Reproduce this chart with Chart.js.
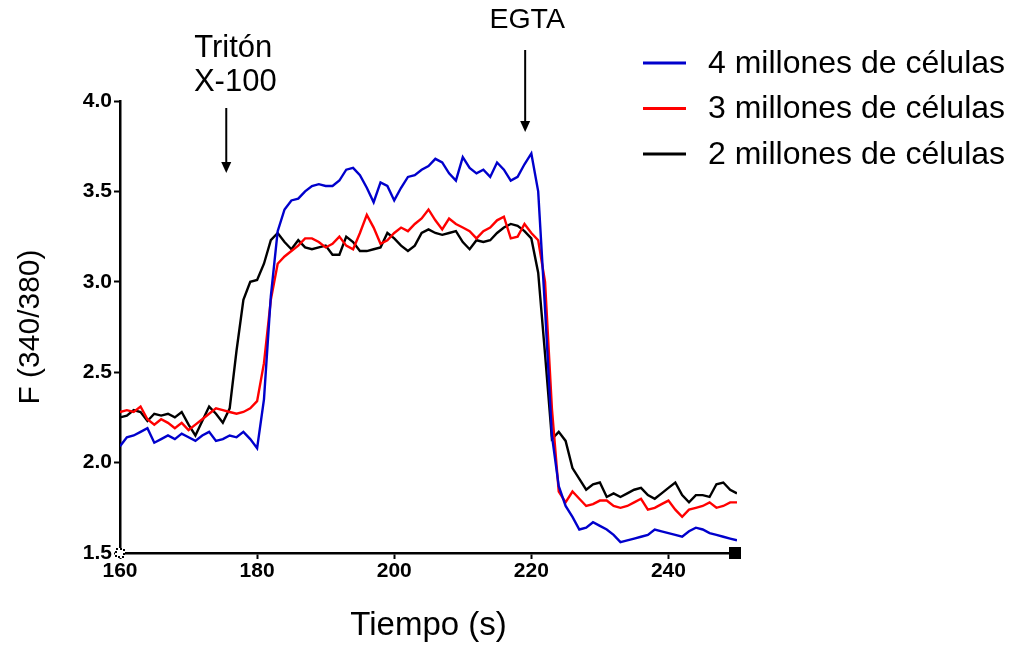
<!DOCTYPE html>
<html>
<head>
<meta charset="utf-8">
<script src="https://cdn.jsdelivr.net/npm/chart.js@4.4.1/dist/chart.umd.min.js"></script>
<style>
  html, body { margin: 0; padding: 0; background: #fff; }
</style>
</head>
<body>
<canvas id="chart" width="1022" height="646"></canvas>
<script>
// Tiempo (s)
const tiempo = [
  160, 161, 162, 163, 164, 165, 166, 167, 168, 169,
  170, 171, 172, 173, 174, 175, 176, 177, 178, 179,
  180, 181, 182, 183, 184, 185, 186, 187, 188, 189,
  190, 191, 192, 193, 194, 195, 196, 197, 198, 199,
  200, 201, 202, 203, 204, 205, 206, 207, 208, 209,
  210, 211, 212, 213, 214, 215, 216, 217, 218, 219,
  220, 221, 222, 223, 224, 225, 226, 227, 228, 229,
  230, 231, 232, 233, 234, 235, 236, 237, 238, 239,
  240, 241, 242, 243, 244, 245, 246, 247, 248, 249,
  250
];

// F (340/380)
const cuatroMillones = [
  2.09, 2.14, 2.15, 2.17, 2.19, 2.11, 2.13, 2.15, 2.13, 2.16,
  2.14, 2.12, 2.15, 2.17, 2.12, 2.13, 2.15, 2.14, 2.17, 2.13,
  2.08, 2.35, 2.92, 3.28, 3.40, 3.45, 3.46, 3.50, 3.53, 3.54,
  3.53, 3.53, 3.56, 3.62, 3.63, 3.59, 3.52, 3.44, 3.55, 3.53,
  3.45, 3.52, 3.58, 3.59, 3.62, 3.64, 3.68, 3.66, 3.60, 3.56,
  3.69, 3.63, 3.60, 3.62, 3.58, 3.66, 3.62, 3.56, 3.58, 3.65,
  3.71, 3.50, 2.85, 2.15, 1.87, 1.76, 1.70, 1.63, 1.64, 1.67,
  1.65, 1.63, 1.60, 1.56, 1.57, 1.58, 1.59, 1.60, 1.63, 1.62,
  1.61, 1.60, 1.59, 1.62, 1.64, 1.63, 1.61, 1.60, 1.59, 1.58,
  1.57
];

const tresMillones = [
  2.28, 2.29, 2.28, 2.31, 2.24, 2.21, 2.24, 2.22, 2.19, 2.22,
  2.18, 2.21, 2.24, 2.27, 2.30, 2.29, 2.28, 2.27, 2.28, 2.30,
  2.34, 2.55, 2.90, 3.10, 3.14, 3.17, 3.20, 3.24, 3.24, 3.22,
  3.19, 3.21, 3.25, 3.20, 3.18, 3.27, 3.37, 3.30, 3.21, 3.23,
  3.27, 3.30, 3.28, 3.32, 3.35, 3.40, 3.34, 3.29, 3.35, 3.32,
  3.30, 3.28, 3.24, 3.28, 3.30, 3.34, 3.36, 3.24, 3.25, 3.32,
  3.27, 3.23, 3.00, 2.30, 1.84, 1.78, 1.84, 1.80, 1.76, 1.77,
  1.79, 1.79, 1.76, 1.75, 1.76, 1.78, 1.80, 1.74, 1.75, 1.77,
  1.79, 1.74, 1.70, 1.74, 1.75, 1.76, 1.78, 1.75, 1.76, 1.78,
  1.78
];

const dosMillones = [
  2.25, 2.26, 2.29, 2.28, 2.23, 2.27, 2.26, 2.27, 2.25, 2.28,
  2.21, 2.15, 2.23, 2.31, 2.27, 2.22, 2.30, 2.62, 2.90, 3.00,
  3.01, 3.10, 3.23, 3.27, 3.22, 3.18, 3.23, 3.19, 3.18, 3.19,
  3.20, 3.15, 3.15, 3.25, 3.22, 3.17, 3.17, 3.18, 3.19, 3.27,
  3.24, 3.20, 3.17, 3.20, 3.27, 3.29, 3.27, 3.26, 3.27, 3.28,
  3.22, 3.18, 3.23, 3.22, 3.23, 3.27, 3.30, 3.32, 3.31, 3.28,
  3.24, 3.05, 2.60, 2.13, 2.17, 2.12, 1.97, 1.91, 1.85, 1.88,
  1.89, 1.81, 1.83, 1.81, 1.83, 1.85, 1.86, 1.82, 1.80, 1.83,
  1.86, 1.89, 1.82, 1.78, 1.82, 1.82, 1.81, 1.88, 1.89, 1.85,
  1.83
];

const etiquetas = ['4 millones de células', '3 millones de células', '2 millones de células'];
const colores = ['#0000cc', '#ff0000', '#000000'];
const xTicks = [160, 180, 200, 220, 240];
const yTicks = [1.5, 2.0, 2.5, 3.0, 3.5, 4.0];
// momentos de adicion (s)
const adiciones = [
  { texto: ['Tritón', 'X-100'], t: 175.5 },
  { texto: ['EGTA'], t: 219.1 }
];

const FONT = '"Liberation Sans", Arial, sans-serif';

function serie(valores) {
  return valores.map((v, i) => ({ x: tiempo[i], y: v }));
}

function flecha(ctx, x, y0, y1) {
  ctx.beginPath();
  ctx.moveTo(x, y0);
  ctx.lineTo(x, y1 - 8);
  ctx.lineWidth = 2;
  ctx.strokeStyle = '#000';
  ctx.stroke();
  ctx.beginPath();
  ctx.moveTo(x - 5, y1 - 11);
  ctx.lineTo(x + 5, y1 - 11);
  ctx.lineTo(x, y1);
  ctx.closePath();
  ctx.fillStyle = '#000';
  ctx.fill();
}

// anotaciones, leyenda y marcas de los extremos del eje
const extras = {
  id: 'extras',
  afterDraw(chart) {
    const ctx = chart.ctx;
    const sx = chart.scales.x;
    const area = chart.chartArea;
    ctx.save();
    ctx.fillStyle = '#000';
    ctx.textAlign = 'center';
    ctx.textBaseline = 'middle';

    // Triton X-100
    const xT = sx.getPixelForValue(adiciones[0].t);
    ctx.font = '31px ' + FONT;
    ctx.fillText(adiciones[0].texto[0], xT + 7, 48);
    ctx.fillText(adiciones[0].texto[1], xT + 9, 82);
    flecha(ctx, xT, 108, 173);

    // EGTA
    const xE = sx.getPixelForValue(adiciones[1].t);
    ctx.font = '28.5px ' + FONT;
    ctx.fillStyle = '#000';
    ctx.fillText(adiciones[1].texto[0], xE + 2, 20);
    flecha(ctx, xE, 50, 132);

    // leyenda
    ctx.font = '32px ' + FONT;
    ctx.textAlign = 'left';
    chart.data.datasets.forEach((ds, i) => {
      const y = 63 + i * 45.5;
      ctx.beginPath();
      ctx.moveTo(643, y);
      ctx.lineTo(686, y);
      ctx.lineWidth = 3;
      ctx.strokeStyle = ds.borderColor;
      ctx.stroke();
      ctx.fillStyle = '#000';
      ctx.fillText(ds.label, 708, y + 1);
    });

    // cuadritos en los extremos del eje x
    ctx.fillStyle = '#000';
    ctx.fillRect(area.right - 8, area.bottom - 6, 12, 12);
    ctx.fillStyle = '#fff';
    ctx.fillRect(area.left - 5, area.bottom - 5, 10, 10);
    ctx.setLineDash([2, 2]);
    ctx.lineWidth = 2;
    ctx.strokeStyle = '#000';
    ctx.strokeRect(area.left - 4, area.bottom - 4, 8, 8);
    ctx.restore();
  }
};

new Chart(document.getElementById('chart'), {
  type: 'line',
  data: {
    datasets: [
      { label: etiquetas[0], data: serie(cuatroMillones), borderColor: colores[0] },
      { label: etiquetas[1], data: serie(tresMillones), borderColor: colores[1] },
      { label: etiquetas[2], data: serie(dosMillones), borderColor: colores[2] }
    ]
  },
  options: {
    responsive: false,
    animation: false,
    elements: {
      line: { borderWidth: 2.4, tension: 0, fill: false },
      point: { radius: 0 }
    },
    layout: { padding: { left: 0, right: 285, top: 101, bottom: 0 } },
    plugins: {
      legend: { display: false },
      tooltip: { enabled: false }
    },
    scales: {
      x: {
        type: 'linear',
        min: 160,
        max: 250,
        afterBuildTicks: (s) => { s.ticks = xTicks.map(v => ({ value: v })); },
        afterFit: (s) => { s.height = 93; },
        border: { display: true, color: '#000', width: 2.5 },
        grid: { display: true, drawOnChartArea: false, drawTicks: true, tickLength: 6, tickWidth: 2, tickColor: '#000' },
        ticks: { color: '#000', padding: 0, maxRotation: 0, font: { family: FONT, size: 21, weight: 'bold' } },
        title: { display: true, text: 'Tiempo (s)', color: '#000', padding: { top: 0, bottom: 0 }, font: { family: FONT, size: 33 } }
      },
      y: {
        type: 'linear',
        min: 1.5,
        max: 4.0,
        afterBuildTicks: (s) => { s.ticks = yTicks.map(v => ({ value: v })); },
        afterFit: (s) => { s.width = 120; },
        border: { display: true, color: '#000', width: 2.5 },
        grid: { display: true, drawOnChartArea: false, drawTicks: true, tickLength: 6, tickWidth: 2, tickColor: '#000' },
        ticks: { color: '#000', padding: 2, font: { family: FONT, size: 21, weight: 'bold' }, callback: (v) => v.toFixed(1) },
        title: { display: true, text: 'F (340/380)', color: '#000', padding: { top: 13, bottom: 0 }, font: { family: FONT, size: 30 } }
      }
    }
  },
  plugins: [extras]
});
</script>
</body>
</html>
